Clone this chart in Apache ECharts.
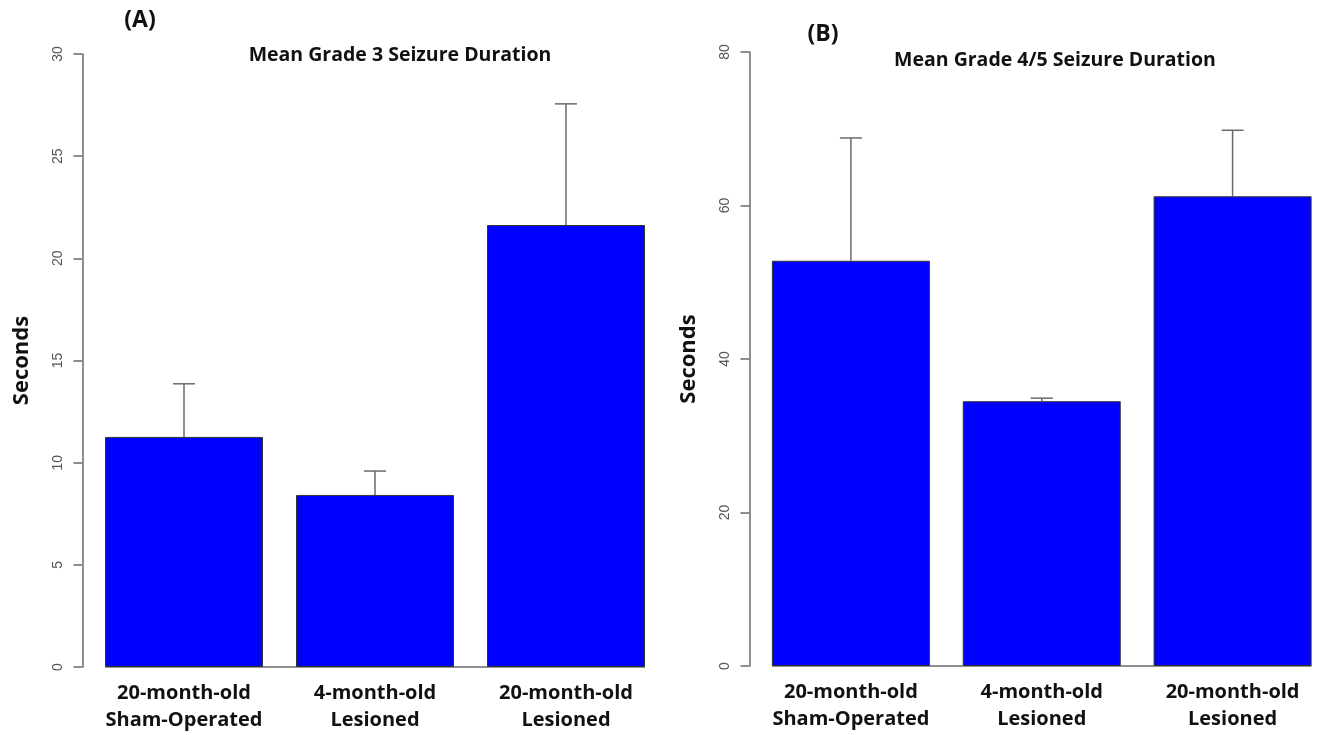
<!DOCTYPE html>
<html><head><meta charset="utf-8">
<script src="https://cdn.jsdelivr.net/npm/echarts@6/dist/echarts.min.js"></script>
<style>html,body{margin:0;padding:0;background:#fff}#c{width:1328px;height:735px}</style>
</head><body><div id="c"></div>
<script>
const categories = ['20-month-old\nSham-Operated', '4-month-old\nLesioned', '20-month-old\nLesioned'];
const meansA = [11.26, 8.42, 21.63];
const errA = [2.6, 1.17, 5.93];
const meansB = [52.8, 34.5, 61.2];
const errB = [16.0, 0.4, 8.6];
const ticksA = {min: 0, max: 30, interval: 5};
const ticksB = {min: 0, max: 80, interval: 20};

const FONT = 'Open Sans';
const chart = echarts.init(document.getElementById('c'));

function errSeries(idx, means, errs) {
  return {
    type: 'custom', xAxisIndex: idx, yAxisIndex: idx, z: 5, silent: true,
    data: means.map((m, i) => [i, m, m + errs[i]]),
    renderItem: function (params, api) {
      const p0 = api.coord([api.value(0), api.value(1)]);
      const p1 = api.coord([api.value(0), api.value(2)]);
      const st = {stroke: '#6a6a6a', lineWidth: 1.5};
      return {type: 'group', children: [
        {type: 'line', shape: {x1: p0[0], y1: p0[1], x2: p1[0], y2: p1[1]}, style: st},
        {type: 'line', shape: {x1: p1[0] - 11, y1: p1[1], x2: p1[0] + 11, y2: p1[1]}, style: st}
      ]};
    }
  };
}
function baseSeries(idx, n) {
  return {
    type: 'custom', xAxisIndex: idx, yAxisIndex: idx, z: 1, silent: true,
    data: [[0, 0]],
    renderItem: function (params, api) {
      const a = api.coord([0, 0]);
      const b = api.coord([n - 1, 0]);
      return {type: 'line', shape: {x1: a[0] - 79, y1: a[1], x2: b[0] + 79, y2: b[1]},
        style: {stroke: '#6a6a6a', lineWidth: 1.5}};
    }
  };
}
function yAx(idx, t) {
  return {
    type: 'value', gridIndex: idx, min: t.min, max: t.max, interval: t.interval,
    offset: 6,
    name: 'Seconds', nameLocation: 'middle', nameGap: 50,
    nameTextStyle: {fontFamily: FONT, fontWeight: 'bold', fontSize: 22, color: '#111'},
    axisLine: {show: true, lineStyle: {color: '#6a6a6a', width: 1.5}},
    axisTick: {show: true, length: 9, lineStyle: {color: '#6a6a6a', width: 1.5}},
    axisLabel: {rotate: 90, color: '#555', fontFamily: 'Liberation Sans', fontSize: 14, margin: 17},
    splitLine: {show: false}
  };
}
function xAx(idx) {
  return {
    type: 'category', gridIndex: idx, data: categories,
    axisLine: {show: false}, axisTick: {show: false},
    axisLabel: {interval: 0, fontFamily: FONT, fontWeight: 'bold', fontSize: 20, color: '#111', lineHeight: 27, margin: 13}
  };
}
function barSeries(idx, means) {
  return {
    type: 'bar', xAxisIndex: idx, yAxisIndex: idx, data: means, barWidth: 158, z: 2,
    itemStyle: {color: '#0000ff', borderColor: '#333', borderWidth: 1},
    silent: true
  };
}

chart.setOption({
  animation: false,
  title: [
    {text: '(A)', left: 135, top: 4, textAlign: 'center', textStyle: {fontFamily: FONT, fontWeight: 'bold', fontSize: 23, color: '#111'}},
    {text: 'Mean Grade 3 Seizure Duration', left: 395, top: 40, textAlign: 'center', textStyle: {fontFamily: FONT, fontWeight: 'bold', fontSize: 19.5, color: '#111'}},
    {text: '(B)', left: 818, top: 18, textAlign: 'center', textStyle: {fontFamily: FONT, fontWeight: 'bold', fontSize: 23, color: '#111'}},
    {text: 'Mean Grade 4/5 Seizure Duration', left: 1050, top: 45, textAlign: 'center', textStyle: {fontFamily: FONT, fontWeight: 'bold', fontSize: 19.5, color: '#111'}}
  ],
  grid: [
    {left: 88.5, width: 573, top: 54, height: 613},
    {left: 755.5, width: 573, top: 52, height: 614}
  ],
  xAxis: [xAx(0), xAx(1)],
  yAxis: [yAx(0, ticksA), yAx(1, ticksB)],
  series: [
    barSeries(0, meansA), barSeries(1, meansB),
    errSeries(0, meansA, errA), errSeries(1, meansB, errB),
    baseSeries(0, categories.length), baseSeries(1, categories.length)
  ]
});
</script></body></html>
